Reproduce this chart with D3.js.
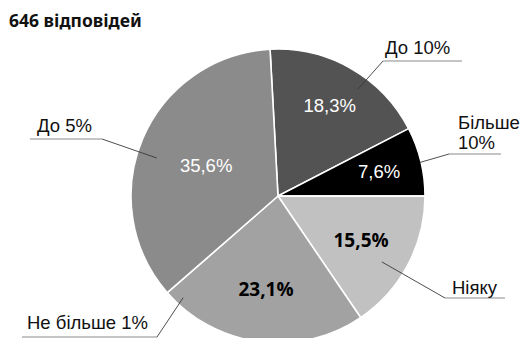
<!DOCTYPE html>
<html>
<head>
<meta charset="utf-8">
<script src="https://cdn.jsdelivr.net/npm/d3@7"></script>
<style>
  html, body { margin: 0; padding: 0; background: #fff; }
  svg { display: block; }
</style>
</head>
<body>
<svg id="chart" width="528" height="338"></svg>
<script>
// Survey answers, clockwise from the top
const categories = ["До 10%", "Більше 10%", "Ніяку", "Не більше 1%", "До 5%"];
const shares = [18.3, 7.6, 15.5, 23.1, 35.6];
const valueLabels = ["18,3%", "7,6%", "15,5%", "23,1%", "35,6%"];
const titleText = "646 відповідей";

const sliceColors = ["#535353", "#000000", "#c1c1c1", "#a2a2a2", "#8b8b8b"];
const valueStyle = [
  { fill: "#fff", bold: false, r: 104 },
  { fill: "#fff", bold: false, r: 104 },
  { fill: "#000", bold: true, r: 94 },
  { fill: "#000", bold: true, r: 94 },
  { fill: "#fff", bold: false, r: 78 }
];

// Callout placement: inner leader point (polar, degrees clockwise from top),
// elbow + underline end, and text lines with anchor point
const callouts = [
  { a: 36.8, r: 133, elbow: [105, -135], end: [184, -135], lines: ["До 10%"], tx: 107, ty: -142 },
  { a: 76.7, r: 146, elbow: [171, -42], end: [223, -42], lines: ["Більше", "10%"], tx: 180, ty: -67 },
  { a: 122.4, r: 123, elbow: [167, 102], end: [227, 102], lines: ["Ніяку"], tx: 174, ty: 98 },
  { a: 223, r: 139, elbow: [-121, 141], end: [-256, 141], lines: ["Не більше 1%"], tx: -251, ty: 133 },
  { a: 287.4, r: 127, elbow: [-176, -57], end: [-248, -57], lines: ["До 5%"], tx: -241, ty: -64 }
];

const cx = 278, cy = 196, radius = 147;
const startDeg = -3.1;
const rad = d => d * Math.PI / 180;

const svg = d3.select("#chart");

svg.append("text")
  .attr("x", 9).attr("y", 27)
  .attr("font-family", "'Noto Sans', 'Open Sans', sans-serif")
  .attr("font-weight", 700)
  .attr("font-size", 17.5)
  .attr("fill", "#111")
  .text(titleText);

const g = svg.append("g").attr("transform", `translate(${cx},${cy})`);

const pie = d3.pie()
  .sort(null)
  .value(d => d)
  .startAngle(rad(startDeg))
  .endAngle(rad(startDeg + 360));

const arcs = pie(shares);
const arc = d3.arc().innerRadius(0).outerRadius(radius);

g.selectAll("path.slice")
  .data(arcs)
  .join("path")
  .attr("class", "slice")
  .attr("d", arc)
  .attr("fill", (d, i) => sliceColors[i])
  .attr("stroke", "#fff")
  .attr("stroke-width", 1.6)
  .attr("stroke-linejoin", "round");

// Value labels at each slice's mid angle
g.selectAll("text.value")
  .data(arcs)
  .join("text")
  .attr("class", "value")
  .each(function (d, i) {
    const s = valueStyle[i];
    const la = d3.arc().innerRadius(s.r).outerRadius(s.r);
    const [x, y] = la.centroid(d);
    d3.select(this)
      .attr("x", x)
      .attr("y", y + 6.5)
      .attr("text-anchor", "middle")
      .attr("font-family", s.bold ? "'Open Sans', 'Noto Sans', sans-serif" : "'Liberation Sans', Arial, sans-serif")
      .attr("font-weight", s.bold ? 700 : 400)
      .attr("font-size", s.bold ? 19 : 18.5)
      .attr("fill", s.fill)
      .text(valueLabels[i]);
  });

// Callouts with leader lines
const polar = (a, r) => [r * Math.sin(rad(a)), -r * Math.cos(rad(a))];
callouts.forEach((c, i) => {
  const p = polar(c.a, c.r);
  g.append("line")
    .attr("x1", p[0]).attr("y1", p[1])
    .attr("x2", c.elbow[0]).attr("y2", c.elbow[1])
    .attr("stroke", "#3a3a3a").attr("stroke-width", 0.9);
  g.append("line")
    .attr("x1", c.elbow[0]).attr("y1", c.elbow[1])
    .attr("x2", c.end[0]).attr("y2", c.end[1])
    .attr("stroke", "#8a8a8a").attr("stroke-width", 1.2);
  const t = g.append("text")
    .datum(categories[i])
    .attr("x", c.tx).attr("y", c.ty)
    .attr("font-family", "'Liberation Sans', Arial, sans-serif")
    .attr("font-size", 18.5)
    .attr("fill", "#111");
  c.lines.forEach((ln, k) => {
    t.append("tspan").attr("x", c.tx).attr("dy", k === 0 ? 0 : 20).text(ln);
  });
});
</script>
</body>
</html>
